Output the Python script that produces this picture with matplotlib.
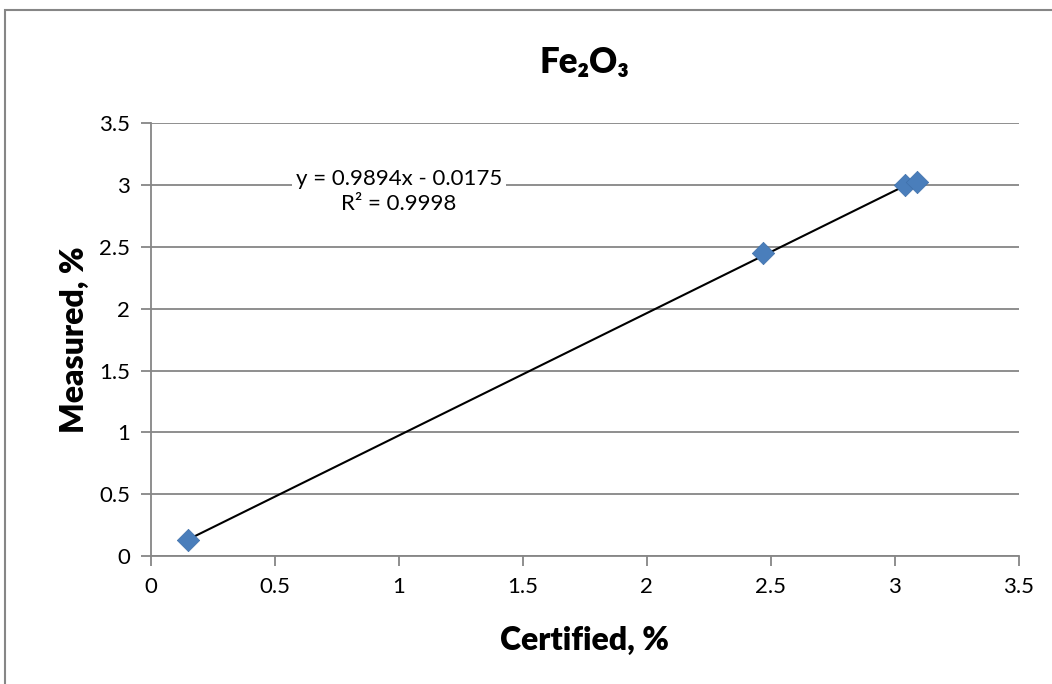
import matplotlib.pyplot as plt
import numpy as np
from matplotlib.patches import Rectangle

plt.rcParams['font.family'] = ['Lato', 'DejaVu Sans']

certified = [0.15, 2.47, 3.04, 3.09]
measured = [0.13, 2.45, 3.00, 3.02]
ticks = [0, 0.5, 1, 1.5, 2, 2.5, 3, 3.5]
equation = 'y = 0.9894x - 0.0175\nR² = 0.9998'

fig = plt.figure(figsize=(10.52, 6.84), dpi=100)
ax = fig.add_axes([0.1435, 0.187, 0.825, 0.633])

# outer chart border (only left/top visible in the crop)
fig.patches.append(Rectangle((5 / 1052, -0.1), 1.2, (684 - 10) / 684 + 0.1,
                             transform=fig.transFigure, fill=False,
                             edgecolor='#868686', lw=1.5))

grey = '#868686'
ax.set_xlim(0, 3.5)
ax.set_ylim(0, 3.5)
ax.set_xticks(ticks)
ax.set_yticks(ticks)
ax.set_xticklabels([f'{t:g}' for t in ticks])
ax.set_yticklabels([f'{t:g}' for t in ticks])
ax.yaxis.grid(True, color=grey, lw=1.3)
ax.set_axisbelow(True)
for s in ['top', 'right']:
    ax.spines[s].set_visible(False)
for s in ['left', 'bottom']:
    ax.spines[s].set_color(grey)
    ax.spines[s].set_linewidth(1.3)
ax.tick_params(direction='out', length=7, width=1.3, color=grey,
               labelsize=16, pad=8)

# linear trendline
x = np.array(certified)
slope, icpt = np.polyfit(x, measured, 1)
xx = np.array([x.min(), x.max()])
ax.plot(xx, slope * xx + icpt, color='black', lw=1.5, zorder=3)

ax.scatter(certified, measured, marker='D', s=130, color='#4a7ebb',
           edgecolors='#3f70aa', linewidths=0.5, zorder=4)

ax.text(1.0, 2.95, equation, ha='center', va='center', fontsize=16,
        linespacing=1.3, bbox=dict(facecolor='white', edgecolor='none', pad=3))

ax.set_title('Fe₂O₃', fontsize=25, fontweight='heavy', pad=36)
ax.set_xlabel('Certified, %', fontsize=23, fontweight='heavy', labelpad=21)
ax.set_ylabel('Measured, %', fontsize=23, fontweight='heavy', labelpad=7)

fig.savefig('out.png', dpi=100)
